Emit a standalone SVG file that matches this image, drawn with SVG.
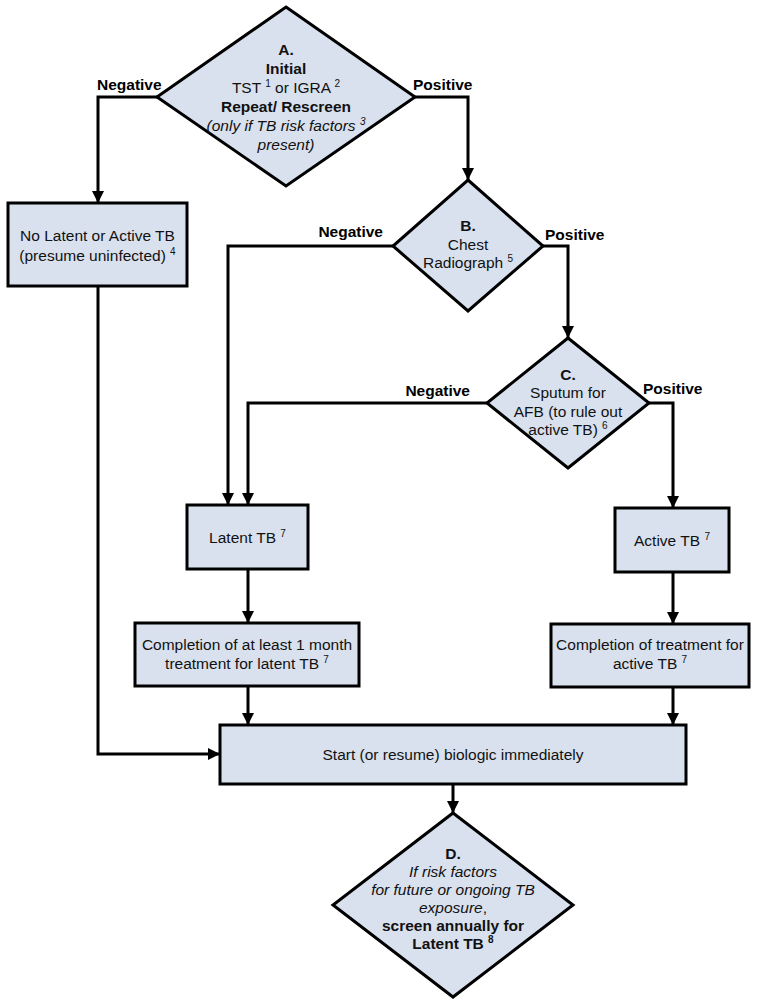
<svg xmlns="http://www.w3.org/2000/svg" width="762" height="999" viewBox="0 0 762 999">
<style>
.shape{fill:#d9e1ef;stroke:#000;stroke-width:3}
.t{font-family:"Liberation Sans",Arial,sans-serif;font-size:15.5px;fill:#111;text-anchor:middle}
.b{font-weight:bold}
.i{font-style:italic}
.lbl{font-family:"Liberation Sans",Arial,sans-serif;font-size:15.5px;font-weight:bold;fill:#000}
.sup{font-size:10px}
.c{fill:none;stroke:#000;stroke-width:3;marker-end:url(#ah)}
</style>
<defs>
<marker id="ah" viewBox="0 0 12 12" refX="12" refY="6" markerWidth="12" markerHeight="12" markerUnits="userSpaceOnUse" orient="auto">
<path d="M0,0 L12,6 L0,12 z" fill="#000"/>
</marker>
</defs>
<rect width="762" height="999" fill="#fff"/>

<g id="connectors">
<polyline class="c" points="157,97 98,97 98,203"/>
<polyline class="c" points="415,97 468,97 468,180"/>
<polyline class="c" points="98,286 98,754 220,754"/>
<polyline class="c" points="393,246 228,246 228,505"/>
<polyline class="c" points="543,246 568,246 568,338"/>
<polyline class="c" points="487,403 248,403 248,505"/>
<polyline class="c" points="649,403 673,403 673,508"/>
<polyline class="c" points="248,569 248,623"/>
<polyline class="c" points="673,572 673,624"/>
<polyline class="c" points="248,686 248,725"/>
<polyline class="c" points="673,687 673,725"/>
<polyline class="c" points="453,784 453,813"/>
<text class="lbl" x="97" y="90">Negative</text>
<text class="lbl" x="413" y="90">Positive</text>
<text class="lbl" x="383" y="237" text-anchor="end">Negative</text>
<text class="lbl" x="545" y="240">Positive</text>
<text class="lbl" x="470" y="396" text-anchor="end">Negative</text>
<text class="lbl" x="643" y="394">Positive</text>
</g>

<g id="nodeA">
<polygon class="shape" points="286,7 415,97 286,186 157,97"/>
<text class="t b" x="286" y="55">A.</text>
<text class="t b" x="286" y="74">Initial</text>
<text class="t" x="286" y="93">TST <tspan class="sup" dy="-6">1</tspan><tspan dy="6"> or IGRA </tspan><tspan class="sup" dy="-6">2</tspan></text>
<text class="t b" x="286" y="112">Repeat/ Rescreen</text>
<text class="t i" x="286" y="131">(only if TB risk factors <tspan class="sup" dy="-6">3</tspan></text>
<text class="t i" x="286" y="150">present)</text>
</g>

<g id="nodeNoLatent">
<rect class="shape" x="8" y="203" width="179" height="83"/>
<text class="t" x="97.5" y="241">No Latent or Active TB</text>
<text class="t" x="97.5" y="261">(presume uninfected) <tspan class="sup" dy="-6">4</tspan></text>
</g>

<g id="nodeB">
<polygon class="shape" points="468,180 543,246 468,311 393,246"/>
<text class="t b" x="468" y="231">B.</text>
<text class="t" x="468" y="250">Chest</text>
<text class="t" x="468" y="268">Radiograph <tspan class="sup" dy="-6">5</tspan></text>
</g>

<g id="nodeC">
<polygon class="shape" points="568,338 649,403 568,468 487,403"/>
<text class="t b" x="568" y="380">C.</text>
<text class="t" x="568" y="398">Sputum for</text>
<text class="t" x="568" y="417">AFB (to rule out</text>
<text class="t" x="568" y="435">active TB) <tspan class="sup" dy="-6">6</tspan></text>
</g>

<g id="nodeLatent">
<rect class="shape" x="187" y="505" width="121" height="64"/>
<text class="t" x="247.5" y="543">Latent TB <tspan class="sup" dy="-6">7</tspan></text>
</g>

<g id="nodeActive">
<rect class="shape" x="615" y="508" width="114" height="64"/>
<text class="t" x="672" y="546">Active TB <tspan class="sup" dy="-6">7</tspan></text>
</g>

<g id="nodeCompLatent">
<rect class="shape" x="135" y="623" width="224" height="63"/>
<text class="t" x="247" y="650">Completion of at least 1 month</text>
<text class="t" x="247" y="669">treatment for latent TB <tspan class="sup" dy="-6">7</tspan></text>
</g>

<g id="nodeCompActive">
<rect class="shape" x="551" y="624" width="198" height="63"/>
<text class="t" x="650" y="650">Completion of treatment for</text>
<text class="t" x="650" y="669">active TB <tspan class="sup" dy="-6">7</tspan></text>
</g>

<g id="nodeStart">
<rect class="shape" x="220" y="725" width="466" height="59"/>
<text class="t" x="453" y="760">Start (or resume) biologic immediately</text>
</g>

<g id="nodeD">
<polygon class="shape" points="453,813 573,905 453,997 333,905"/>
<text class="t b" x="453" y="859">D.</text>
<text class="t i" x="453" y="877">If risk factors</text>
<text class="t i" x="453" y="895">for future or ongoing TB</text>
<text class="t" x="453" y="913"><tspan class="i">exposure</tspan>,</text>
<text class="t b" x="453" y="931">screen annually for</text>
<text class="t b" x="453" y="949">Latent TB <tspan class="sup" dy="-6">8</tspan></text>
</g>
</svg>
